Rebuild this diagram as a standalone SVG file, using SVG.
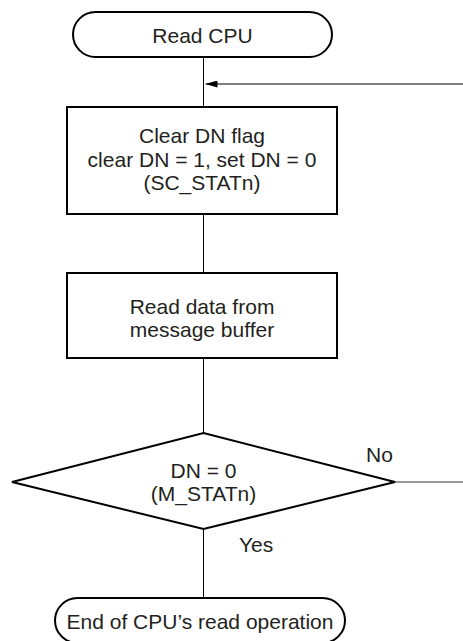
<svg xmlns="http://www.w3.org/2000/svg" width="463" height="641" viewBox="0 0 463 641">
<style>
.shape{fill:#fff;stroke:#000;stroke-width:2}
.t{font-family:"Liberation Sans",Arial,sans-serif;font-size:21px;fill:#231f20;text-anchor:middle}
.l{font-family:"Liberation Sans",Arial,sans-serif;font-size:21px;fill:#231f20}
.c{fill:none;stroke:#000;stroke-width:1}
</style>
<defs>
<marker id="ah" viewBox="0 0 12 7" refX="12" refY="3.5" markerWidth="12" markerHeight="7" markerUnits="userSpaceOnUse" orient="auto">
<path d="M12,3.5 L0,0 L0,7 Z" fill="#000"/>
</marker>
</defs>
<rect width="463" height="641" fill="#fff"/>
<g id="connectors">
<line class="c" x1="203.5" y1="57" x2="203.5" y2="107"/>
<line class="c" x1="463" y1="84" x2="205.5" y2="84" marker-end="url(#ah)"/>
<line class="c" x1="203.5" y1="214" x2="203.5" y2="273"/>
<line class="c" x1="203.5" y1="358" x2="203.5" y2="433"/>
<line class="c" x1="203.5" y1="529" x2="203.5" y2="598"/>
<line x1="395" y1="482" x2="463" y2="482" stroke="#777" stroke-width="1.5"/>
<text class="l" x="366" y="462">No</text>
<text class="l" x="239" y="552">Yes</text>
</g>
<g id="start">
<rect class="shape" x="73" y="12" width="259" height="45" rx="22.5" ry="22.5"/>
<text class="t" x="202.5" y="43">Read CPU</text>
</g>
<g id="clear-dn">
<rect class="shape" x="67" y="107" width="270" height="107"/>
<text class="t" x="202" y="143">Clear DN flag</text>
<text class="t" x="202" y="167">clear DN = 1, set DN = 0</text>
<text class="t" x="202" y="190">(SC_STATn)</text>
</g>
<g id="read-data">
<rect class="shape" x="67" y="273" width="270" height="85"/>
<text class="t" x="202" y="314">Read data from</text>
<text class="t" x="202" y="337">message buffer</text>
</g>
<g id="decision">
<polygon class="shape" points="203.5,433 395,482 203.5,529 12,482"/>
<text class="t" x="203.5" y="478">DN = 0</text>
<text class="t" x="203.5" y="501">(M_STATn)</text>
</g>
<g id="end">
<rect class="shape" x="55" y="598" width="290" height="45" rx="22.5" ry="22.5"/>
<text class="t" x="200" y="629">End of CPU’s read operation</text>
</g>
</svg>
